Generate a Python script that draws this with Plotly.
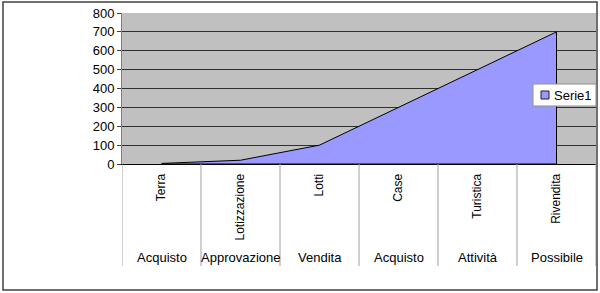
import plotly.graph_objects as go

categories = ["Terra", "Lotizzazione", "Lotti", "Case", "Turistica", "Rivendita"]
groups = ["Acquisto", "Approvazione", "Vendita", "Acquisto", "Attività", "Possibile"]
values = [3, 20, 100, 300, 500, 700]
series_name = "Serie1"
y_ticks = [0, 100, 200, 300, 400, 500, 600, 700, 800]

W, H = 600, 293
L, R, T, B = 122, 4, 13, 129
pw, ph = W - L - R, H - T - B

def px_x(x):
    return (x - L) / pw

def px_y(y):
    return (H - B - y) / ph

FONT = "Liberation Sans, Arial, sans-serif"
FILL = "#9999FF"

fig = go.Figure()
fig.add_trace(go.Scatter(
    x=categories + [categories[-1], categories[0]],
    y=values + [0, 0],
    mode="lines",
    fill="toself",
    fillcolor=FILL,
    line=dict(color="black", width=1),
    name=series_name,
    showlegend=False,
))

shapes = []
# category dividers below the axis
for i in range(len(categories) + 1):
    shapes.append(dict(type="line", xref="x", yref="paper",
                       x0=i - 0.5, x1=i - 0.5, y0=0, y1=px_y(266),
                       line=dict(color="#A0A0A0", width=1)))
# outer border
shapes.append(dict(type="rect", xref="paper", yref="paper",
                   x0=px_x(3), x1=px_x(597), y0=px_y(290), y1=px_y(2),
                   line=dict(color="#404040", width=1.5), layer="above"))
# legend box and swatch
shapes.append(dict(type="rect", xref="paper", yref="paper",
                   x0=px_x(533), x1=px_x(596), y0=px_y(106), y1=px_y(84),
                   fillcolor="white", line=dict(color="#909090", width=1),
                   layer="above"))
shapes.append(dict(type="rect", xref="paper", yref="paper",
                   x0=px_x(541), x1=px_x(549), y0=px_y(99), y1=px_y(91),
                   fillcolor=FILL, line=dict(color="#202020", width=1),
                   layer="above"))

annotations = []
for i, g in enumerate(groups):
    annotations.append(dict(x=i, xref="x", y=px_y(257), yref="paper",
                            text=g, showarrow=False,
                            font=dict(family=FONT, size=13, color="black"),
                            xanchor="center", yanchor="middle"))
annotations.append(dict(x=px_x(552), xref="paper", y=px_y(95), yref="paper",
                        text=series_name, showarrow=False,
                        font=dict(family=FONT, size=13, color="black"),
                        xanchor="left", yanchor="middle"))

fig.update_layout(
    width=W, height=H,
    margin=dict(l=L, r=R, t=T, b=B, autoexpand=False),
    paper_bgcolor="white",
    plot_bgcolor="#C0C0C0",
    font=dict(family=FONT, size=13, color="black"),
    shapes=shapes,
    annotations=annotations,
    showlegend=False,
    xaxis=dict(
        type="category",
        categoryorder="array", categoryarray=categories,
        range=[-0.5, len(categories) - 0.5],
        tickvals=categories, ticktext=categories,
        tickangle=-90,
        tickfont=dict(family=FONT, size=12, color="black"),
        showgrid=False, zeroline=False,
        showline=True, linecolor="black", linewidth=1,
        ticks="", ticklabelstandoff=4,
    ),
    yaxis=dict(
        range=[0, 800],
        tickvals=y_ticks,
        showgrid=True, gridcolor="#303030", gridwidth=1,
        zeroline=False,
        showline=True, linecolor="#808080", linewidth=1,
        ticks="outside", ticklen=4, tickcolor="#404040",
        tickfont=dict(family=FONT, size=13, color="black"),
    ),
)

fig.write_html("out.html")
